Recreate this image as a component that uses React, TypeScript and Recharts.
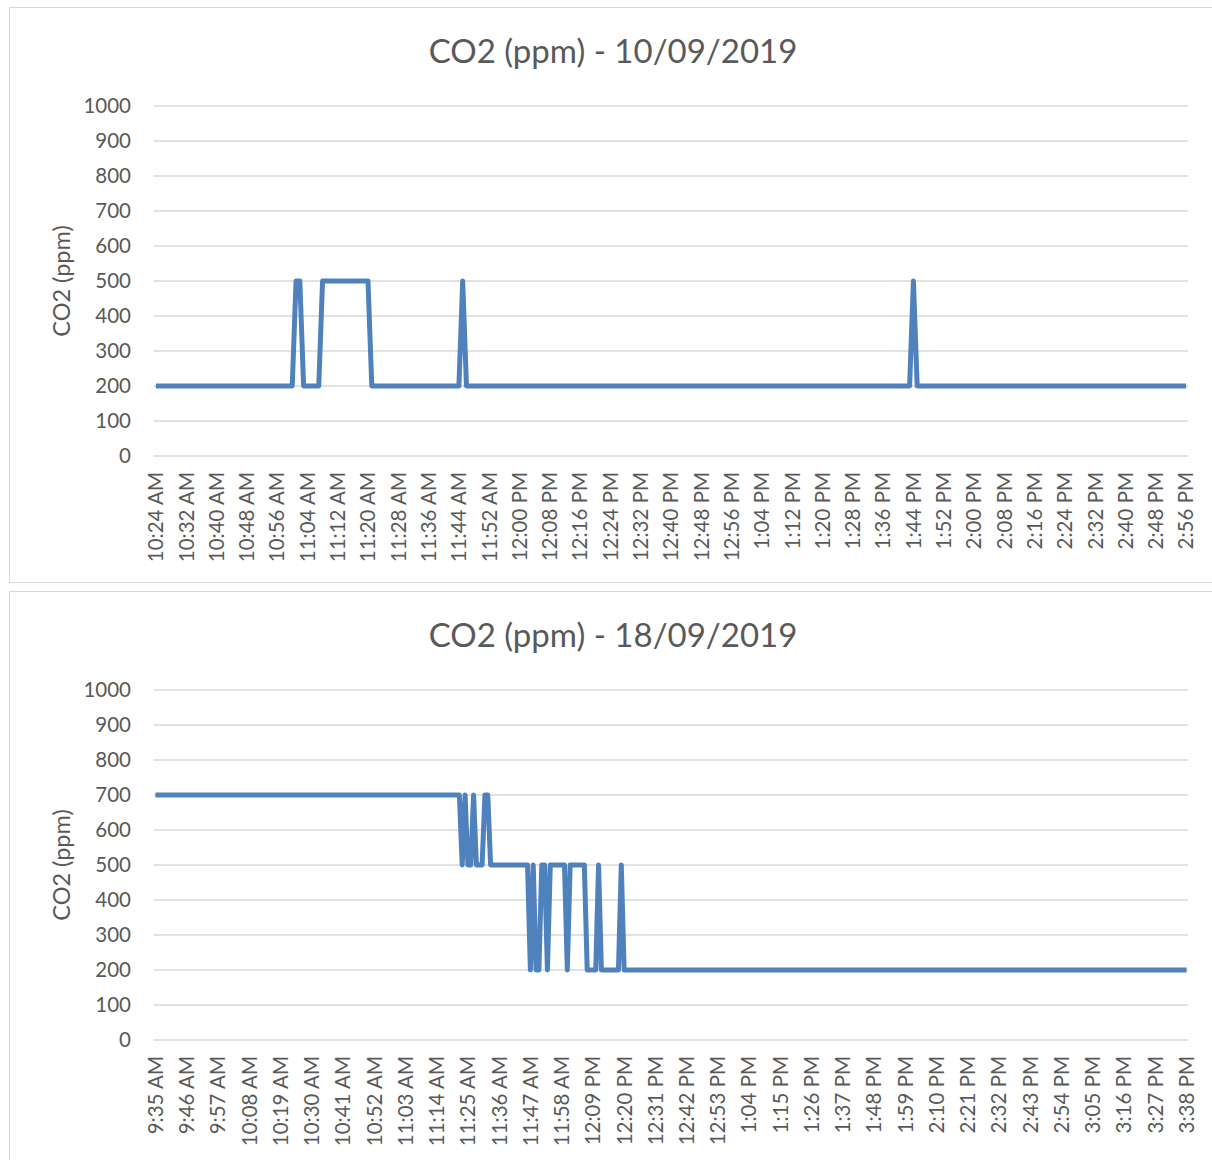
import { LineChart, Line, XAxis, YAxis, CartesianGrid } from "recharts";

const Y_TICKS = [0, 100, 200, 300, 400, 500, 600, 700, 800, 900, 1000];

// 10/09/2019 - one reading per minute from 10:24 AM, stored as [ppm, minutes]
const DAY1_TITLE = "CO2 (ppm) - 10/09/2019";
const DAY1_START = 10 * 60 + 24;
const DAY1_RUNS: [number, number][] = [
  [200, 37],
  [500, 2],
  [200, 5],
  [500, 13],
  [200, 24],
  [500, 1],
  [200, 118],
  [500, 1],
  [200, 72],
];

// 18/09/2019 - one reading per minute from 9:35 AM
const DAY2_TITLE = "CO2 (ppm) - 18/09/2019";
const DAY2_START = 9 * 60 + 35;
const DAY2_RUNS: [number, number][] = [
  [700, 108],
  [500, 1],
  [700, 1],
  [500, 2],
  [700, 1],
  [500, 3],
  [700, 2],
  [500, 14],
  [200, 1],
  [500, 1],
  [200, 2],
  [500, 2],
  [200, 1],
  [500, 6],
  [200, 1],
  [500, 6],
  [200, 4],
  [500, 1],
  [200, 7],
  [500, 1],
  [200, 199],
];

const FONT = "Lato, 'Open Sans', sans-serif";
const GREY = "#595959";
const GRID = "#d9d9d9";
const BLUE = "#4f81bd";

function clock(min: number) {
  const h24 = Math.floor(min / 60);
  const m = min % 60;
  const h = h24 % 12 === 0 ? 12 : h24 % 12;
  return `${h}:${String(m).padStart(2, "0")} ${h24 >= 12 ? "PM" : "AM"}`;
}

function expand(start: number, runs: [number, number][]) {
  const out: { time: string; co2: number }[] = [];
  let t = start;
  for (const [v, n] of runs) {
    for (let k = 0; k < n; k++) {
      out.push({ time: clock(t), co2: v });
      t++;
    }
  }
  return out;
}

function TimeTick({ x, y, payload }: any) {
  return (
    <text
      x={x}
      y={y}
      dx={-8}
      dy="0.36em"
      transform={`rotate(-90, ${x}, ${y})`}
      textAnchor="end"
      fill={GREY}
      fontSize={20.5}
      fontFamily={FONT}
    >
      {payload.value}
    </text>
  );
}

function AxisTitle({ viewBox }: any) {
  const cx = 52;
  const cy = viewBox.y + viewBox.height / 2;
  return (
    <text
      x={cx}
      y={cy}
      transform={`rotate(-90, ${cx}, ${cy})`}
      textAnchor="middle"
      dy="0.35em"
      fill={GREY}
      fontSize={23.5}
      fontFamily={FONT}
    >
      CO2 (ppm)
    </text>
  );
}

function Panel({ title, start, runs, interval, top }: any) {
  const data = expand(start, runs);
  const pad = 1034 / data.length / 2;
  return (
    <div
      style={{
        position: "absolute",
        left: 9,
        top,
        width: 1220,
        height: 576,
        boxSizing: "border-box",
        border: `1px solid ${GRID}`,
        background: "#fff",
      }}
    >
      <div
        style={{
          position: "absolute",
          left: 0,
          top: 22,
          width: 1206,
          textAlign: "center",
          fontFamily: FONT,
          fontSize: 33,
          lineHeight: "40px",
          color: GREY,
        }}
      >
        {title}
      </div>
      <div style={{ position: "absolute", left: 0, top: 0 }}>
        <LineChart width={1200} height={574} data={data} margin={{ top: 98, right: 22, bottom: 0, left: 0 }}>
          <CartesianGrid vertical={false} stroke={GRID} strokeWidth={1.3} />
          <XAxis
            dataKey="time"
            interval={interval}
            height={126}
            axisLine={false}
            tickLine={false}
            padding={{ left: pad, right: pad }}
            tick={<TimeTick />}
          />
          <YAxis
            domain={[0, 1000]}
            ticks={Y_TICKS}
            width={144}
            axisLine={false}
            tickLine={false}
            tickMargin={17}
            tick={{ fill: GREY, fontSize: 20.5, fontFamily: FONT }}
            label={<AxisTitle />}
          />
          <Line
            type="linear"
            dataKey="co2"
            stroke={BLUE}
            strokeWidth={5}
            strokeLinejoin="round"
            dot={false}
            activeDot={false}
            isAnimationActive={false}
          />
        </LineChart>
      </div>
    </div>
  );
}

export default function App() {
  return (
    <div style={{ position: "absolute", left: 0, top: 0, width: 1212, height: 1160, overflow: "hidden", background: "#fff" }}>
      <Panel title={DAY1_TITLE} start={DAY1_START} runs={DAY1_RUNS} interval={7} top={7} />
      <Panel title={DAY2_TITLE} start={DAY2_START} runs={DAY2_RUNS} interval={10} top={591} />
    </div>
  );
}
